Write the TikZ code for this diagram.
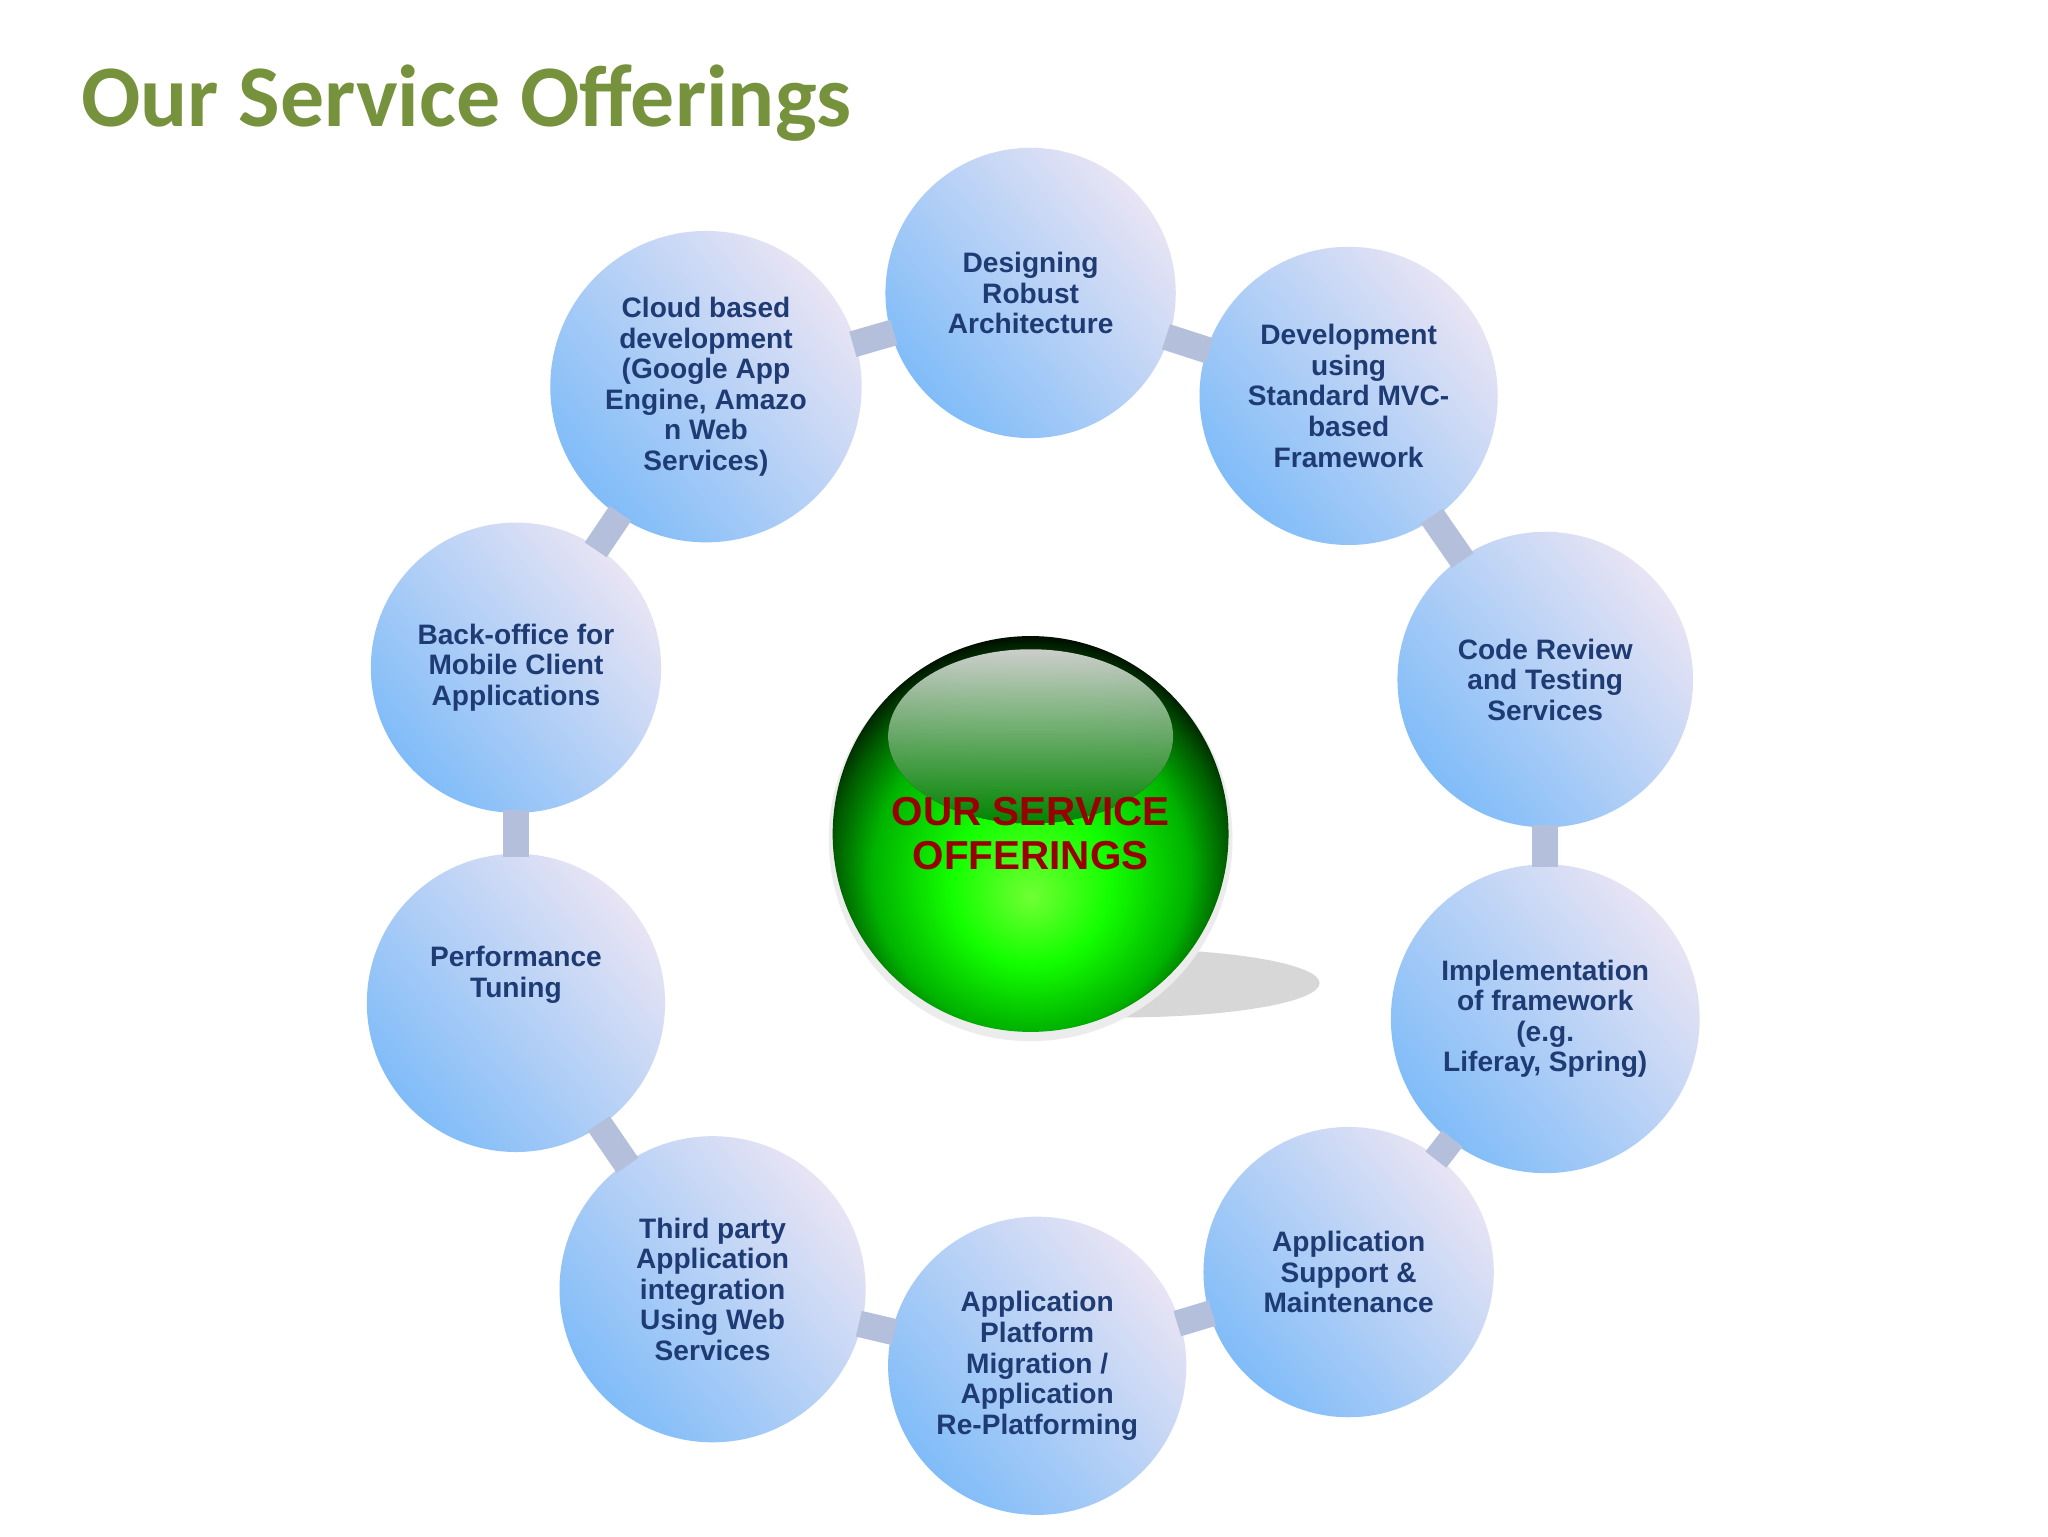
\documentclass[tikz,border=0pt]{standalone}
\usepackage{fontspec}
\setmainfont{Liberation Sans}
\newfontfamily\titlefont{Carlito}
\definecolor{ttl}{HTML}{76923C}
\definecolor{navy}{HTML}{1F3B73}
\definecolor{conncol}{HTML}{B4C0DB}
\definecolor{clight}{HTML}{E8E4F4}
\definecolor{cdark}{HTML}{80BCF8}
\definecolor{dred}{HTML}{990000}
\pgfdeclareradialshading{gball}{\pgfpoint{0bp}{-8bp}}{color(0bp)=(green!60!lime!80!white); color(10bp)=(green!90!lime); color(20bp)=(green!70!black); color(25bp)=(green!35!black); color(29bp)=(black); color(50bp)=(black)}
\begin{document}
\begin{tikzpicture}[x=0.013196cm,y=-0.013196cm,
  svc/.style={circle,minimum size={#1*0.013196cm},inner sep=0pt,
    top color=clight,bottom color=cdark,shading angle=-50,
    text=navy,font=\bfseries\fontsize{8}{8.7}\selectfont,align=center},
  conn/.style={draw=conncol,line width={20*0.013196cm},shorten >=-1pt,shorten <=-1pt}]
\useasboundingbox (0,0) rectangle (1552,1164);
\fill[white] (0,0) rectangle (1552,1164);
\node[anchor=west,text=ttl,font=\titlefont\bfseries\fontsize{25}{28}\selectfont] (title) at (52,78) {Our Service Offerings};
\node[svc=220] (c1) at (781,222) {Designing\\Robust\\Architecture};
\node[svc=226] (c2) at (1022,300) {Development\\using\\Standard MVC-\\based\\Framework};
\node[svc=224] (c3) at (1171,515) {Code Review\\and Testing\\Services};
\node[svc=234] (c4) at (1171,772) {Implementation\\of framework\\(e.g.\\Liferay, Spring)};
\node[svc=220] (c5) at (1022,964) {Application\\Support \&\\Maintenance};
\node[svc=226] (c6) at (786,1035) {Application\\Platform\\Migration /\\Application\\Re-Platforming};
\node[svc=232] (c7) at (540,977) {Third party\\Application\\integration\\Using Web\\Services};
\node[svc=226] (c8) at (391,760) {Performance\\Tuning\\[9pt]\mbox{}};
\node[svc=220] (c9) at (391,506) {Back-office for\\Mobile Client\\Applications};
\node[svc=236] (c10) at (535,293) {Cloud based\\development\\(Google App\\Engine, Amazo\\n Web\\Services)};
\foreach \a/\b in {c1/c2,c2/c3,c3/c4,c4/c5,c5/c6,c6/c7,c7/c8,c8/c9,c9/c10,c10/c1}
  \draw[conn] (\a) -- (\b);
% shadow
\fill[black!22,opacity=0.7] (850,745) ellipse (150 and 26);
\node[circle,minimum size={306*0.013196cm},fill=white!85!gray] (rim) at (781,636) {};
\node[circle,minimum size={300*0.013196cm},shading=gball] (ball) at (781,632) {};
\fill[top color=white,bottom color=green!60!black,opacity=0.8] (781,558) ellipse (108 and 66);
\node[text=dred,font=\bfseries\fontsize{11.5}{12.5}\selectfont,align=center] (ctr) at (781,632) {OUR SERVICE\\OFFERINGS};
\end{tikzpicture}
\end{document}
